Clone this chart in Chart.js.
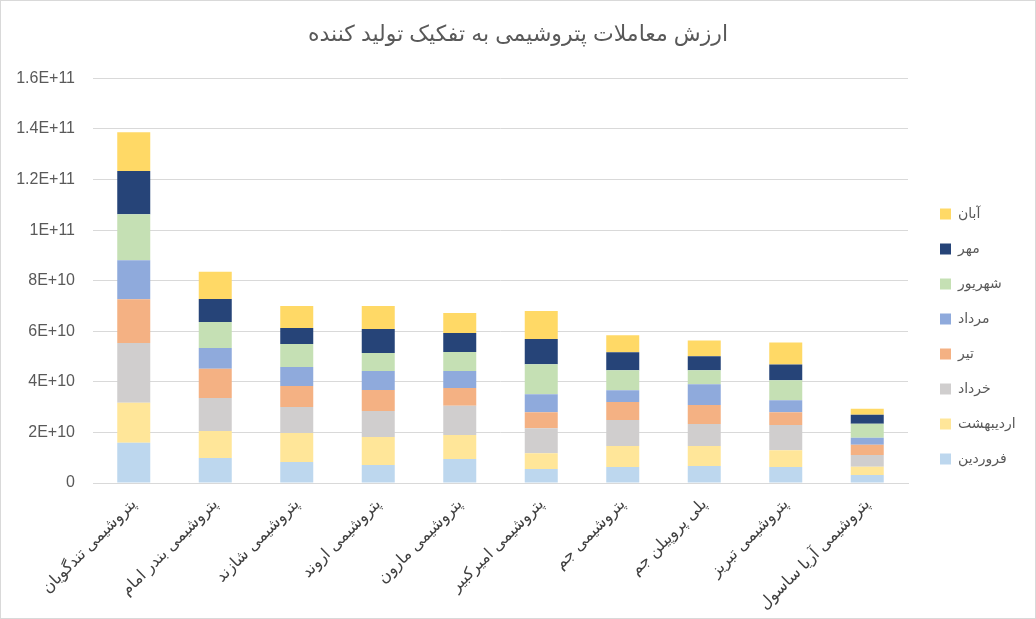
<!DOCTYPE html>
<html><head><meta charset="utf-8">
<script src="https://cdn.jsdelivr.net/npm/chart.js@4.4.1/dist/chart.umd.min.js"></script>
<style>html,body{margin:0;padding:0;background:#fff}#wrap{width:1036px;height:619px;position:relative}</style>
</head><body><div id="wrap"><canvas id="c" width="1036" height="619"></canvas></div>
<script>
const titleText = 'ارزش معاملات پتروشیمی به تفکیک تولید کننده';
const categories = ['پتروشیمی تندگویان','پتروشیمی بندر امام','پتروشیمی شازند','پتروشیمی اروند','پتروشیمی مارون','پتروشیمی امیرکبیر','پتروشیمی جم','پلی پروپیلن جم','پتروشیمی تبریز','پتروشیمی آریا ساسول'];
const seriesNames = ['فروردین','اردیبهشت','خرداد','تیر','مرداد','شهریور','مهر','آبان'];
const farvardin   = [15.9e9, 9.9e9, 8.3e9, 7.1e9, 9.5e9, 5.5e9, 6.3e9, 6.7e9, 6.3e9, 3.2e9];
const ordibehesht = [15.8e9, 10.7e9, 11.5e9, 11.1e9, 9.5e9, 6.3e9, 8.3e9, 7.9e9, 6.7e9, 3.2e9];
const khordad     = [23.7e9, 13.0e9, 10.3e9, 10.3e9, 11.5e9, 9.9e9, 10.3e9, 8.7e9, 9.9e9, 4.7e9];
const tir         = [17.3e9, 11.6e9, 8.3e9, 8.3e9, 7.1e9, 6.3e9, 7.1e9, 7.5e9, 5.1e9, 4.0e9];
const mordad      = [15.4e9, 8.2e9, 7.5e9, 7.5e9, 6.7e9, 7.1e9, 4.7e9, 8.3e9, 4.7e9, 2.8e9];
const shahrivar   = [18.2e9, 10.3e9, 9.1e9, 7.1e9, 7.5e9, 11.9e9, 7.9e9, 5.5e9, 7.9e9, 5.5e9];
const mehr        = [17.1e9, 9.1e9, 6.3e9, 9.5e9, 7.5e9, 9.9e9, 7.1e9, 5.5e9, 6.3e9, 3.6e9];
const aban        = [15.3e9, 10.7e9, 8.7e9, 9.1e9, 7.9e9, 11.1e9, 6.7e9, 6.3e9, 8.7e9, 2.4e9];
const yTickLabels = ['0','2E+10','4E+10','6E+10','8E+10','1E+11','1.2E+11','1.4E+11','1.6E+11'];

const seriesValues = [farvardin, ordibehesht, khordad, tir, mordad, shahrivar, mehr, aban];
const colors = ['#BDD7EE','#FFE699','#D0CECE','#F4B183','#8FAADC','#C5E0B4','#264478','#FFD966'];

const datasets = seriesNames.map((n, i) => ({
  label: n, data: seriesValues[i], backgroundColor: colors[i], borderWidth: 0,
  barPercentage: 0.405, categoryPercentage: 1.0
}));

const FONT = '"Liberation Sans", "DejaVu Sans", Arial, sans-serif';

const layoutFix = {
  id: 'layoutFix',
  beforeLayout(chart) {
    const lg = chart.legend;
    if (lg && !lg._wrapped) {
      const f = lg.fit;
      lg.fit = function () { f.call(this); this.width = 128; };
      lg._wrapped = true;
    }
  },
  afterLayout(chart) {
    const lg = chart.legend;
    if (lg) { lg.left += 11; lg.right += 11; lg.top += 27; lg.bottom += 27; }
  },
  beforeDraw(chart) {
    const ctx = chart.ctx;
    ctx.save();
    ctx.fillStyle = '#fff';
    ctx.fillRect(0, 0, chart.width, chart.height);
    ctx.strokeStyle = '#d9d9d9';
    ctx.lineWidth = 1;
    ctx.strokeRect(0.5, 0.5, chart.width - 1, chart.height - 1);
    ctx.restore();
  }
};

new Chart(document.getElementById('c'), {
  type: 'bar',
  data: { labels: categories, datasets },
  plugins: [layoutFix],
  options: {
    responsive: false, animation: false, devicePixelRatio: 1,
    layout: { padding: { left: 0, right: 0, top: 0, bottom: 0 } },
    plugins: {
      title: { display: true, text: titleText, color: '#595959',
        font: { family: FONT, size: 22, weight: 'normal' }, padding: { top: 22, bottom: 30 } },
      legend: { position: 'right', reverse: true,
        labels: { boxWidth: 11, boxHeight: 11, padding: 21, color: '#595959',
          font: { family: FONT, size: 14 } } },
      tooltip: { enabled: false }
    },
    scales: {
      x: { stacked: true,
        grid: { display: false },
        border: { display: true, color: '#d9d9d9', width: 1 },
        ticks: { color: '#404040', minRotation: 45, maxRotation: 45, autoSkip: false, padding: 4,
          font: { family: FONT, size: 16 } },
        afterFit(s) { s.height = 136; } },
      y: { stacked: true, min: 0, max: 1.6e11,
        grid: { color: '#d9d9d9', drawTicks: false, lineWidth: 1 },
        border: { display: false },
        ticks: { stepSize: 2e10, color: '#595959', padding: 18,
          font: { family: FONT, size: 16 },
          callback: (v, i) => yTickLabels[i] },
        afterFit(s) { s.width = 93; } }
    }
  }
});
</script>
</body></html>
